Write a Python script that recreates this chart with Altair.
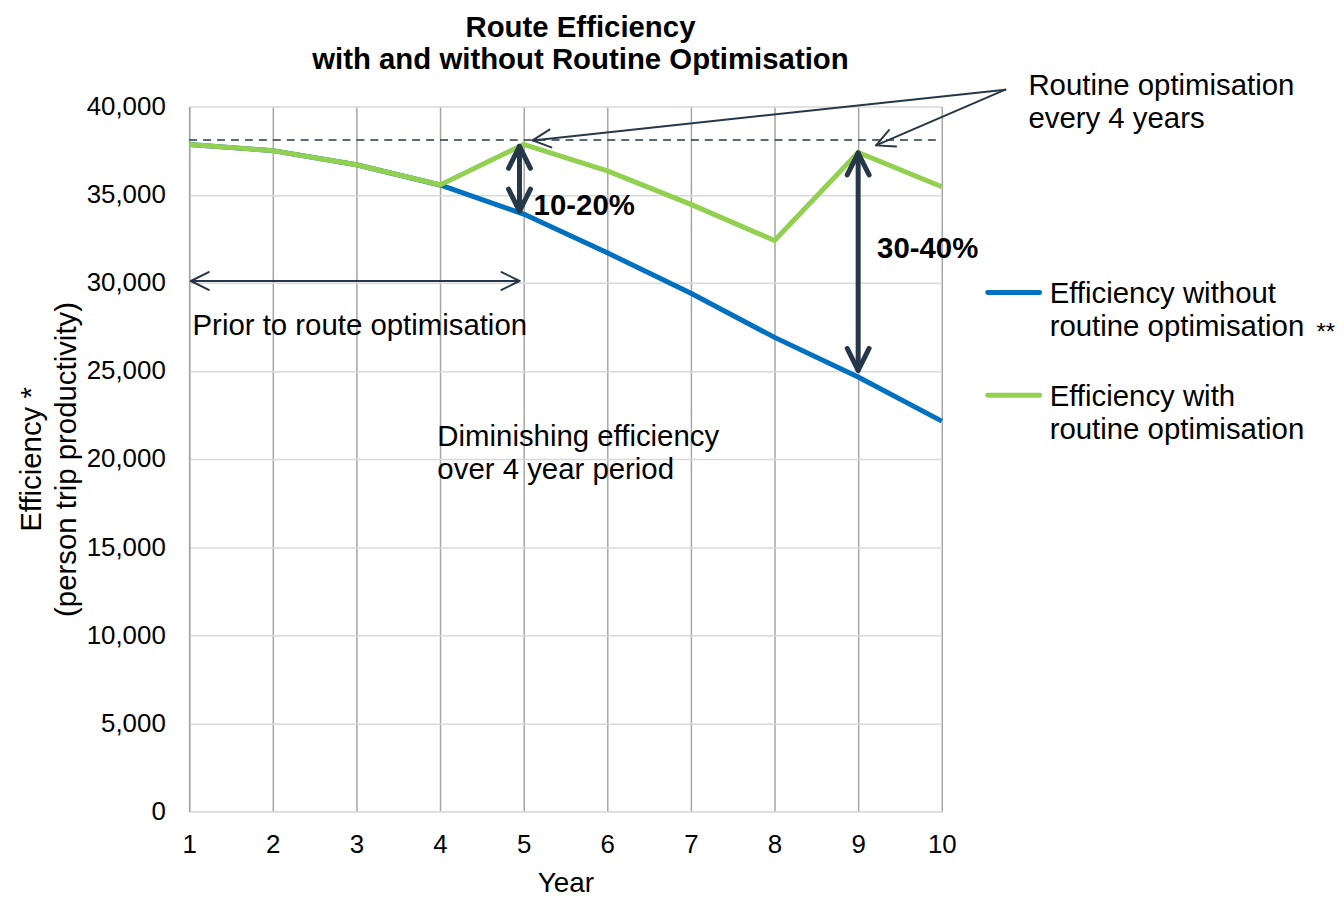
import altair as alt
import pandas as pd

# ---------------- data ----------------
years = [1, 2, 3, 4, 5, 6, 7, 8, 9, 10]
eff_without = [37850, 37500, 36700, 35550, 33900, 31700, 29400, 26900, 24650, 22150]
eff_with = [37850, 37500, 36700, 35550, 37850, 36350, 34450, 32400, 37400, 35450]
series_names = ["Efficiency without\nroutine optimisation", "Efficiency with\nroutine optimisation"]
series_colors = ["#0070C0", "#92D050"]
y_ticks = [0, 5000, 10000, 15000, 20000, 25000, 30000, 35000, 40000]

title_lines = ["Route Efficiency\nwith and without Routine Optimisation"]
title_x = [5.679]
title_y = [44548]

# reference (pre-optimisation) level
ref_x = [1, 9.95]
ref_level = 38100

# arrow shafts (year, value) -> (year, value)
seg_x = [10.76, 10.76, 1.02, 4.95, 9.0]
seg_y = [40960, 40960, 30100, 37740, 37362]
seg_x2 = [5.107, 9.214, 4.95, 4.95, 9.0]
seg_y2 = [38079, 37797, 30100, 34068, 25028]
seg_w = [2, 2, 2, 5, 5]

# arrow heads
head_x = [5.107, 9.214, 1.02, 4.95, 4.95, 4.95, 9.0, 9.0]
head_y = [38079, 37797, 30100, 30100, 37740, 34068, 37362, 25028]
head_angle = [173.9, 156.7, 180, 0, 270, 90, 270, 90]
head_size = [1296, 1296, 1296, 1296, 1936, 1936, 1936, 1936]
head_w = [2, 2, 2, 2, 5, 5, 5, 5]

# annotation texts
note_labels = ["Prior to route optimisation",
               "Diminishing efficiency\nover 4 year period",
               "Routine optimisation\nevery 4 years"]
note_x = [1.04, 3.968, 11.036]
note_y = [27655, 21328, 41243]

pct_labels = ["10-20%", "30-40%"]
pct_x = [5.119, 9.226]
pct_y = [34463, 31994]

# custom legend (placed right of plot)
leg_x = [10.55, 10.55]
leg_x2 = [11.17, 11.17]
leg_y = [29453, 23616]
leg_text_x = [11.29, 11.29]

star_label = ["**"]
star_x = [14.48]
star_y = [26751]

# ---------------- tables ----------------
lines_df = pd.DataFrame({
    "year": years * 2,
    "value": eff_without + eff_with,
    "series": [series_names[0]] * len(years) + [series_names[1]] * len(years),
    "order": [0] * len(years) + [1] * len(years),
})
title_df = pd.DataFrame({"x": title_x, "y": title_y, "t": title_lines})
ref_df = pd.DataFrame({"x": [ref_x[0]], "x2": [ref_x[1]], "y": [ref_level]})
seg_df = pd.DataFrame({"x": seg_x, "y": seg_y, "x2": seg_x2, "y2": seg_y2, "w": seg_w})
head_df = pd.DataFrame({"x": head_x, "y": head_y, "a": head_angle, "s": head_size, "w": head_w})
note_df = pd.DataFrame({"x": note_x, "y": note_y, "t": note_labels})
pct_df = pd.DataFrame({"x": pct_x, "y": pct_y, "t": pct_labels})
leg_df = pd.DataFrame({"x": leg_x, "x2": leg_x2, "y": leg_y, "tx": leg_text_x,
                       "t": series_names, "c": series_colors})
star_df = pd.DataFrame({"x": star_x, "y": star_y, "t": star_label})

# ---------------- scales / axes ----------------
NAVY = "#26374a"
FS = 29.5
x_scale = alt.Scale(domain=[1, 10], nice=False, zero=False)
y_scale = alt.Scale(domain=[0, 40000], nice=False, zero=True)

x_axis = alt.Axis(values=years, labelExpr="format(datum.value, 'd')", title="Year", grid=True,
                  gridColor="#a6a6a6", gridWidth=1.5, domainColor="#d9d9d9",
                  domainWidth=1.5, ticks=False, tickSize=0, labelFontSize=26,
                  labelPadding=20, labelColor="black", labelFlush=False,
                  labelOverlap=False, titleFontSize=28, titleFontWeight="normal",
                  titleColor="black", titleY=72, titleBaseline="middle")
y_axis = alt.Axis(values=y_ticks, labelExpr="format(datum.value, ',')",
                  title=["Efficiency *", "(person trip productivity)"],
                  grid=True, gridColor="#d9d9d9", gridWidth=1.5, domainColor="#a6a6a6",
                  domainWidth=1.5, ticks=False, tickSize=0, labelFontSize=26,
                  labelPadding=24, labelColor="black", labelOverlap=False,
                  titleFontSize=FS, titleFontWeight="normal", titleColor="black",
                  titleX=-158, titleY=354, titleAngle=270, titleBaseline="middle",
                  titleAlign="center", titleLineHeight=35)


def X(field):
    return alt.X(field, type="quantitative", scale=x_scale, axis=x_axis)


def Y(field):
    return alt.Y(field, type="quantitative", scale=y_scale, axis=y_axis)


# ---------------- layers ----------------
blue = alt.Chart(lines_df).transform_filter("datum.order == 0").mark_line(
    strokeWidth=5, color=series_colors[0]).encode(x=X("year"), y=Y("value"))
green = alt.Chart(lines_df).transform_filter("datum.order == 1").mark_line(
    strokeWidth=5, color=series_colors[1]).encode(x=X("year"), y=Y("value"))

ref = alt.Chart(ref_df).mark_rule(color=NAVY, strokeWidth=1.5, strokeDash=[8, 6]).encode(
    x=X("x"), x2="x2", y=Y("y"))

shafts = alt.Chart(seg_df).mark_rule(color=NAVY, strokeCap="round").encode(
    x=X("x"), y=Y("y"), x2="x2", y2="y2",
    strokeWidth=alt.StrokeWidth("w:Q", scale=None))

heads = alt.Chart(head_df).mark_point(
    shape="M -1 -0.5 L 0 0 L -1 0.5", filled=False, color=NAVY, opacity=1,
    strokeCap="round", strokeJoin="round").encode(
    x=X("x"), y=Y("y"),
    angle=alt.Angle("a:Q", scale=None),
    size=alt.Size("s:Q", scale=None),
    strokeWidth=alt.StrokeWidth("w:Q", scale=None))

title = alt.Chart(title_df).mark_text(
    align="center", baseline="top", dy=-12.5, fontSize=FS, fontWeight="bold",
    lineBreak="\n", lineHeight=32, color="black").encode(x=X("x"), y=Y("y"), text="t:N")

notes = alt.Chart(note_df).mark_text(
    align="left", baseline="top", dy=-12.5, fontSize=FS, lineBreak="\n",
    lineHeight=33.5, color="black").encode(x=X("x"), y=Y("y"), text="t:N")

pcts = alt.Chart(pct_df).mark_text(
    align="left", baseline="top", dy=-12.5, fontSize=FS, fontWeight="bold",
    color="black").encode(x=X("x"), y=Y("y"), text="t:N")

leg_lines = alt.Chart(leg_df).mark_rule(strokeWidth=5, strokeCap="round").encode(
    x=X("x"), x2="x2", y=Y("y"), color=alt.Color("c:N", scale=None))

leg_text = alt.Chart(leg_df).mark_text(
    align="left", baseline="top", dy=-12.5, fontSize=FS, lineBreak="\n",
    lineHeight=33.5, color="black").encode(x=X("tx"), y=Y("y"), text="t:N")

stars = alt.Chart(star_df).mark_text(
    align="left", baseline="alphabetic", fontSize=24, color="black").encode(
    x=X("x"), y=Y("y"), text="t:N")

chart = alt.layer(
    ref, blue, green, shafts, heads, title, notes, pcts, leg_lines, leg_text, stars
).properties(
    width=756,
    height=708,
    autosize=alt.AutoSizeParams(type="none"),
    padding={"left": 182, "top": 97, "right": 396, "bottom": 84},
).configure(font="Liberation Sans").configure_view(stroke=None)

chart.save("out.html", embed_options={"renderer": "svg", "actions": False})
